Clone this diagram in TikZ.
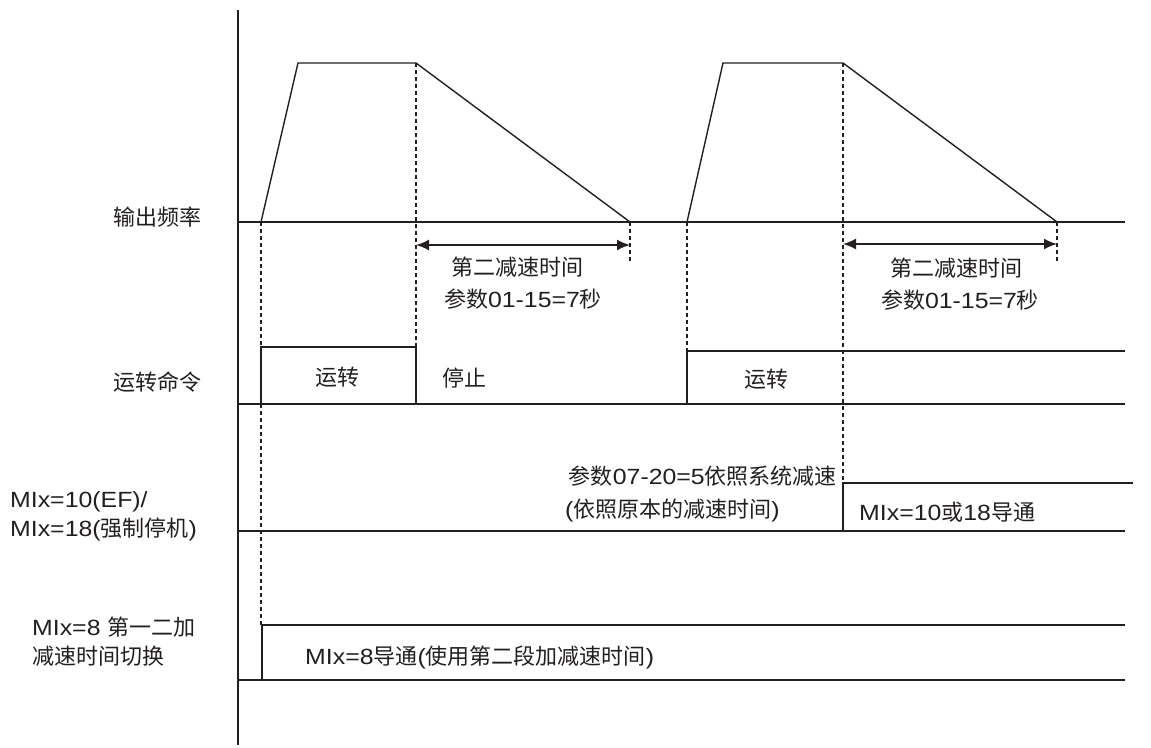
\documentclass[tikz,border=0pt]{standalone}
\usepackage{fontspec}
\setmainfont[FakeStretch=1.13]{Liberation Sans}
\newfontfamily\cjk{Noto Sans CJK SC}
\newcommand{\zh}[1]{{\cjk #1}}
\usetikzlibrary{arrows.meta}
\definecolor{ink}{RGB}{35,31,32}
\tikzset{
  axisline/.style={line width=1.4pt, draw=ink},
  wave/.style={line width=1.4pt, draw=ink},
  guide/.style={line width=2.2pt, draw=ink, dash pattern=on 4pt off 3pt},
  dimarrow/.style={line width=1.8pt, draw=ink, {Latex[length=13pt,width=11pt]}-{Latex[length=13pt,width=11pt]}},
  lbl/.style={inner sep=0pt, font=\fontsize{22}{26}\selectfont, text=ink},
}
\begin{document}
\begin{tikzpicture}[x=1pt,y=-1pt]
\useasboundingbox (0,0) rectangle (1151,747);
% axis
\coordinate (axT) at (238,10);
\coordinate (axB) at (238,745);
\draw[axisline] (axT) -- (axB);
% baselines
\coordinate (f0) at (238,222); \coordinate (f1) at (1125,222);
\coordinate (r0) at (238,404); \coordinate (r1) at (1125,404);
\coordinate (m0) at (238,531); \coordinate (m1) at (1125,531);
\coordinate (e0) at (238,680); \coordinate (e1) at (1125,680);
\draw[axisline] (f0) -- (f1);
\draw[axisline] (r0) -- (r1);
\draw[axisline] (m0) -- (m1);
\draw[axisline] (e0) -- (e1);
% frequency waveforms
\coordinate (a1) at (261,222); \coordinate (b1) at (298,63);
\coordinate (c1) at (416,63); \coordinate (d1) at (630,222);
\coordinate (a2) at (687,222); \coordinate (b2) at (723,63);
\coordinate (c2) at (843,63); \coordinate (d2) at (1057,222);
\draw[wave] (a1) -- (b1) -- (c1) -- (d1);
\draw[wave] (a2) -- (b2) -- (c2) -- (d2);
% run command
\coordinate (p1a) at (261,404); \coordinate (p1b) at (261,347);
\coordinate (p1c) at (416,347); \coordinate (p1d) at (416,404);
\draw[wave] (p1a) -- (p1b) -- (p1c) -- (p1d);
\coordinate (p2a) at (687,404); \coordinate (p2b) at (687,351);
\coordinate (p2c) at (1125,351);
\draw[wave] (p2a) -- (p2b) -- (p2c);
% MIx=10/18
\coordinate (q1a) at (843,531); \coordinate (q1b) at (843,483);
\coordinate (q1c) at (1133,483);
\draw[wave] (q1a) -- (q1b) -- (q1c);
% MIx=8
\coordinate (s1a) at (262,680); \coordinate (s1b) at (262,625);
\coordinate (s1c) at (1125,625);
\draw[wave] (s1a) -- (s1b) -- (s1c);
% guides
\coordinate (g1e) at (261,625);
\coordinate (g2e) at (416,404);
\coordinate (g3e) at (630,262);
\coordinate (g4e) at (687,351);
\coordinate (g5e) at (843,483);
\coordinate (g6e) at (1057,262);
\draw[guide] (a1) -- (g1e);
\draw[guide] (c1) -- (g2e);
\draw[guide] (d1) -- (g3e);
\draw[guide] (a2) -- (g4e);
\draw[guide] (c2) -- (g5e);
\draw[guide] (d2) -- (g6e);
% dimension arrows
\coordinate (h1a) at (416,245); \coordinate (h1b) at (630,245);
\coordinate (h2a) at (843,244); \coordinate (h2b) at (1057,244);
\draw[dimarrow] (h1a) -- (h1b);
\draw[dimarrow] (h2a) -- (h2b);
\node[lbl] (t1) at (517,267) {\zh{第二减速时间}};
\node[lbl] (t2) at (523,299) {\zh{参数}01-15=7\zh{秒}};
\node[lbl] (t3) at (956,268) {\zh{第二减速时间}};
\node[lbl] (t4) at (960,300) {\zh{参数}01-15=7\zh{秒}};
% row labels
\node[lbl] (L1) at (157,217) {\zh{输出频率}};
\node[lbl] (L2) at (157,382) {\zh{运转命令}};
\node[lbl, anchor=west] (L3) at (10,502) {MIx=10(EF)/};
\node[lbl, anchor=west] (L4) at (10,529) {MIx=18(\zh{强制停机})};
\node[lbl, anchor=west] (L5) at (32,627) {MIx=8 \zh{第一二加}};
\node[lbl, anchor=west] (L6) at (32,656) {\zh{减速时间切换}};
% in-chart labels
\node[lbl] (R1) at (337,377) {\zh{运转}};
\node[lbl] (S1) at (464,378) {\zh{停止}};
\node[lbl] (R2) at (766,379) {\zh{运转}};
\node[lbl, anchor=east] (P1) at (837,476) {\zh{参数}07-20=5\zh{依照系统减速}};
\node[lbl, anchor=west] (P2) at (565,510) {(\zh{依照原本的减速时间})};
\node[lbl, anchor=west] (M1) at (859,512) {MIx=10\zh{或}18\zh{导通}};
\node[lbl, anchor=west] (M2) at (305,657) {MIx=8\zh{导通}(\zh{使用第二段加减速时间})};
\end{tikzpicture}
\end{document}
